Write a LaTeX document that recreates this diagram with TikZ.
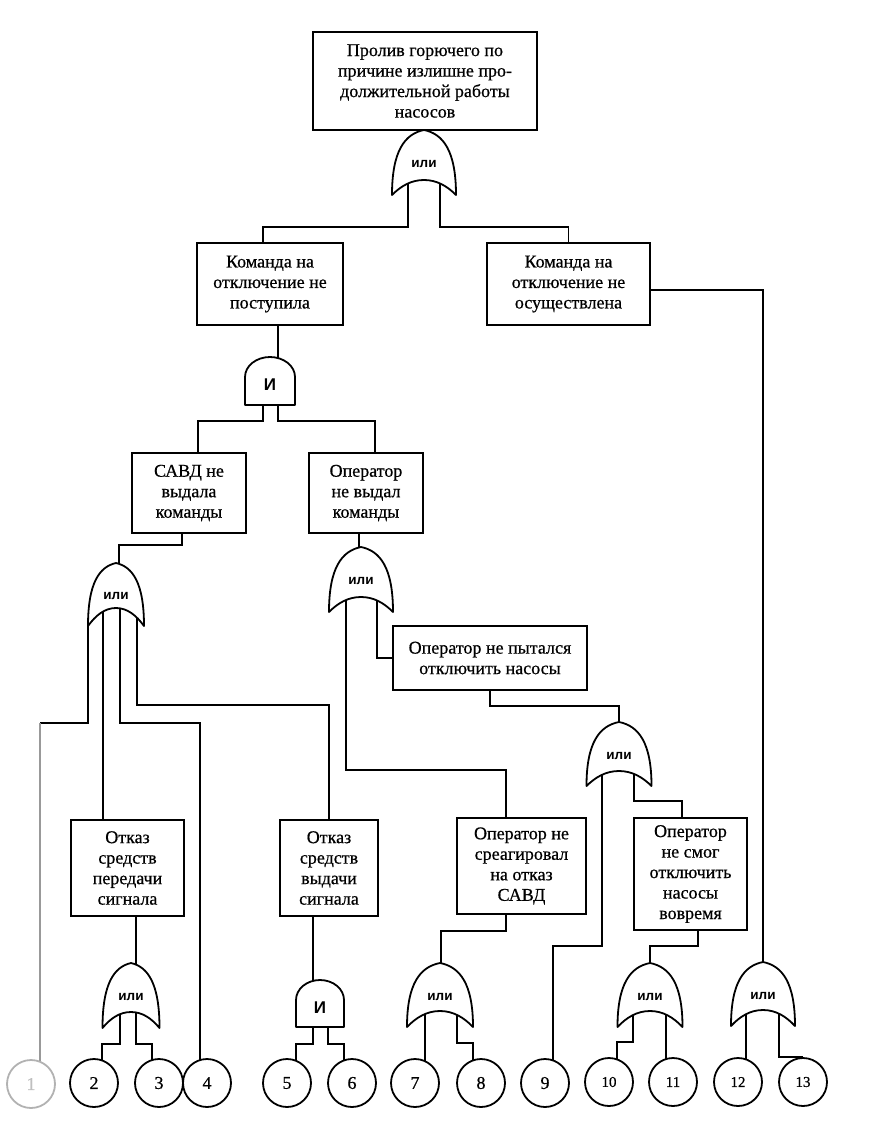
\documentclass[tikz,border=0pt]{standalone}
\usepackage{fontspec}
\setmainfont{Liberation Serif}
\newfontfamily\heavy{Liberation Serif}[FakeBold=0.6]
\newfontfamily\gatefont{Liberation Sans}
\usetikzlibrary{backgrounds}
\tikzset{
  box/.style={draw, line width=1.8pt, fill=white, inner sep=0pt, align=center,
    font=\heavy\fontsize{18}{20.5}\selectfont},
  num/.style={draw, circle, line width=1.8pt, fill=white, minimum size=48pt,
    inner sep=0pt, font=\heavy\fontsize{18}{20}\selectfont},
  numsmall/.style={num, font=\heavy\fontsize{15}{16}\selectfont},
  wire/.style={line width=1.8pt},
  gatepath/.style={draw, line width=1.8pt, fill=white, line join=round},
  orlabel/.style={font=\gatefont\bfseries\fontsize{13.5}{13.5}\selectfont, inner sep=0pt},
  andlabel/.style={font=\gatefont\bfseries\fontsize{17}{17}\selectfont, inner sep=0pt},
  pics/orgate/.style n args={3}{code={
    \path[gatepath]
      (0,0) .. controls ({0.3*#1},{0.06*#2}) and ({0.5*#1},{0.32*#2}) .. ({0.5*#1},#2)
      .. controls ({0.36*#1},{#2-0.6*#3}) and ({0.2*#1},{#2-#3}) .. (0,{#2-#3})
      .. controls ({-0.2*#1},{#2-#3}) and ({-0.36*#1},{#2-0.6*#3}) .. ({-0.5*#1},#2)
      .. controls ({-0.5*#1},{0.32*#2}) and ({-0.3*#1},{0.06*#2}) .. cycle;
    \node[orlabel] at (0,{0.53*#2}) {или};
    \coordinate (-top) at (0,0);
    \coordinate (-bot) at (0,{#2-#3});
    \coordinate (-tip) at ({-0.5*#1},#2);
  }},
  pics/andgate/.style n args={3}{code={
    \path[gatepath]
      ({-0.5*#1},#2) -- ({-0.5*#1},#3)
      .. controls ({-0.5*#1},{#3-0.5523*#3}) and ({-0.5523*0.5*#1},0) .. (0,0)
      .. controls ({0.5523*0.5*#1},0) and ({0.5*#1},{#3-0.5523*#3}) .. ({0.5*#1},#3)
      -- ({0.5*#1},#2) -- cycle;
    \node[andlabel] at (0,{0.58*#2}) {И};
    \coordinate (-top) at (0,0);
    \coordinate (-bot) at (0,#2);
  }}
}
\begin{document}
\begin{tikzpicture}[x=1pt,y=-1pt]
\useasboundingbox (0,0) rectangle (881,1124);

% boxes
\node[box, minimum width=224pt, minimum height=98pt] (B0) at (425,81)
  {Пролив горючего по\\причине излишне про-\\должительной работы\\насосов};
\node[box, minimum width=146pt, minimum height=82pt] (B1) at (270,284)
  {Команда на\\отключение не\\поступила};
\node[box, minimum width=163pt, minimum height=82pt] (B2) at (568.5,284)
  {Команда на\\отключение не\\осуществлена};
\node[box, minimum width=114pt, minimum height=80pt] (B3) at (189,493)
  {САВД не\\выдала\\команды};
\node[box, minimum width=114pt, minimum height=80pt] (B4) at (366,493)
  {Оператор\\не выдал\\команды};
\node[box, minimum width=194pt, minimum height=64pt] (B5) at (490,658)
  {Оператор не пытался\\отключить насосы};
\node[box, minimum width=113pt, minimum height=96pt] (B6) at (127.5,868)
  {Отказ\\средств\\передачи\\сигнала};
\node[box, minimum width=98pt, minimum height=96pt] (B7) at (329,868)
  {Отказ\\средств\\выдачи\\сигнала};
\node[box, minimum width=129pt, minimum height=96pt] (B8) at (521.5,866)
  {Оператор не\\среагировал\\на отказ\\САВД};
\node[box, minimum width=113pt, minimum height=112pt] (B9) at (690.5,874)
  {Оператор\\не смог\\отключить\\насосы\\вовремя};

% gates
\pic (g0) at (424,130) {orgate={64}{65}{15}};
\pic (a1) at (270,357) {andgate={50}{48}{20}};
\pic (g2) at (116,563) {orgate={56}{63}{18}};
\pic (g3) at (361,547) {orgate={64}{65}{15}};
\pic (g4) at (619,722) {orgate={65}{64}{15}};
\pic (g5) at (131,963) {orgate={57}{65}{16}};
\pic (a6) at (320,980) {andgate={48}{47}{20}};
\pic (g7) at (440,963) {orgate={66}{64}{16}};
\pic (g8) at (650,963) {orgate={65}{64}{16}};
\pic (g9) at (763,962) {orgate={64}{64}{16}};

% basic events
\node[num, draw=black!30, text=black!25] (c1) at (31,1084) {1};
\node[num] (c2) at (94,1083) {2};
\node[num] (c3) at (159,1083) {3};
\node[num] (c4) at (207,1083) {4};
\node[num] (c5) at (287,1083) {5};
\node[num] (c6) at (352,1083) {6};
\node[num] (c7) at (415,1083) {7};
\node[num] (c8) at (481,1083) {8};
\node[num] (c9) at (545,1083) {9};
\node[numsmall] (c10) at (609,1082) {10};
\node[numsmall] (c11) at (673,1082) {11};
\node[numsmall] (c12) at (738,1082) {12};
\node[numsmall] (c13) at (803,1082) {13};

% connectors
\begin{scope}[on background layer]
\draw[wire] ([xshift=-16pt]g0-bot) |- ([xshift=-7pt,yshift=15pt]B1.north) -- ([xshift=-7pt]B1.north);
\draw[wire] ([xshift=16pt]g0-bot) |- ([yshift=15pt]B2.north) -- (B2.north);
\draw[wire] ([xshift=8pt]B1.south) -- ([xshift=8pt,yshift=-5pt]a1-top);
\draw[wire] ([xshift=-7pt]a1-bot) |- ([xshift=9pt,yshift=31pt]B3.north) -- ([xshift=9pt]B3.north);
\draw[wire] ([xshift=8pt]a1-bot) |- ([xshift=9pt,yshift=31pt]B4.north) -- ([xshift=9pt]B4.north);
\draw[wire] ([xshift=-7pt]B3.south) |- ([xshift=3pt,yshift=18pt]g2-top) -- ([xshift=3pt,yshift=-5pt]g2-top);
\draw[wire] ([xshift=-7pt]B4.south) -- ([xshift=-2pt,yshift=-5pt]g3-top);
\draw[wire] (g2-tip) |- ([xshift=9pt,yshift=361pt]c1.center);
\draw[line width=1.9pt, black!40] ([xshift=9pt,yshift=361pt]c1.center) -- ([xshift=9pt]c1.center);
\draw[wire] ([xshift=-13pt]g2-bot) -- ([xshift=-24.5pt]B6.north);
\draw[wire] ([xshift=4pt]g2-bot) |- ([xshift=-7pt,yshift=360pt]c4.center) -- ([xshift=-7pt]c4.center);
\draw[wire] ([xshift=21pt]g2-bot) |- ([yshift=114pt]B7.north) -- (B7.north);
\draw[wire] ([xshift=-15pt]g3-bot) |- ([xshift=-15.5pt,yshift=47pt]B8.north) -- ([xshift=-15.5pt]B8.north);
\draw[wire] ([xshift=16pt]g3-bot) |- (B5.west);
\draw[wire] (B5.south) |- ([yshift=16pt]g4-top) -- ([yshift=-5pt]g4-top);
\draw[wire] ([xshift=-17pt]g4-bot) |- ([xshift=8pt,yshift=137pt]c9.center) -- ([xshift=8pt]c9.center);
\draw[wire] ([xshift=15pt]g4-bot) |- ([xshift=-8.5pt,yshift=16pt]B9.north) -- ([xshift=-8.5pt]B9.north);
\draw[wire] ([yshift=-6pt]B2.east) -| ([yshift=-5pt]g9-top);
\draw[wire] ([xshift=8.5pt]B6.south) -- ([xshift=5pt,yshift=-5pt]g5-top);
\draw[wire] ([xshift=-11pt]g5-bot) |- ([xshift=8pt,yshift=39pt]c2.center) -- ([xshift=8pt]c2.center);
\draw[wire] ([xshift=5pt]g5-bot) |- ([xshift=-7pt,yshift=39pt]c3.center) -- ([xshift=-7pt]c3.center);
\draw[wire] ([xshift=-16pt]B7.south) -- ([xshift=-7pt,yshift=-5pt]a6-top);
\draw[wire] ([xshift=-7pt]a6-bot) |- ([xshift=9pt,yshift=39pt]c5.center) -- ([xshift=9pt]c5.center);
\draw[wire] ([xshift=8pt]a6-bot) |- ([xshift=-8pt,yshift=39pt]c6.center) -- ([xshift=-8pt]c6.center);
\draw[wire] ([xshift=-15.5pt]B8.south) |- ([xshift=1pt,yshift=32pt]g7-top) -- ([xshift=1pt,yshift=-5pt]g7-top);
\draw[wire] ([xshift=-15pt]g7-bot) -- ([xshift=10pt]c7.center);
\draw[wire] ([xshift=17pt]g7-bot) |- ([xshift=-8pt,yshift=40pt]c8.center) -- ([xshift=-8pt]c8.center);
\draw[wire] ([xshift=7.5pt]B9.south) |- ([yshift=17pt]g8-top) -- ([yshift=-5pt]g8-top);
\draw[wire] ([xshift=-17pt]g8-bot) |- ([xshift=8pt,yshift=40pt]c10.center) -- ([xshift=8pt]c10.center);
\draw[wire] ([xshift=16pt]g8-bot) -- ([xshift=-7pt]c11.center);
\draw[wire] ([xshift=-17pt]g9-bot) -- ([xshift=8pt]c12.center);
\draw[wire] ([xshift=16pt]g9-bot) |- (c13.north);
\end{scope}
\end{tikzpicture}
\end{document}
